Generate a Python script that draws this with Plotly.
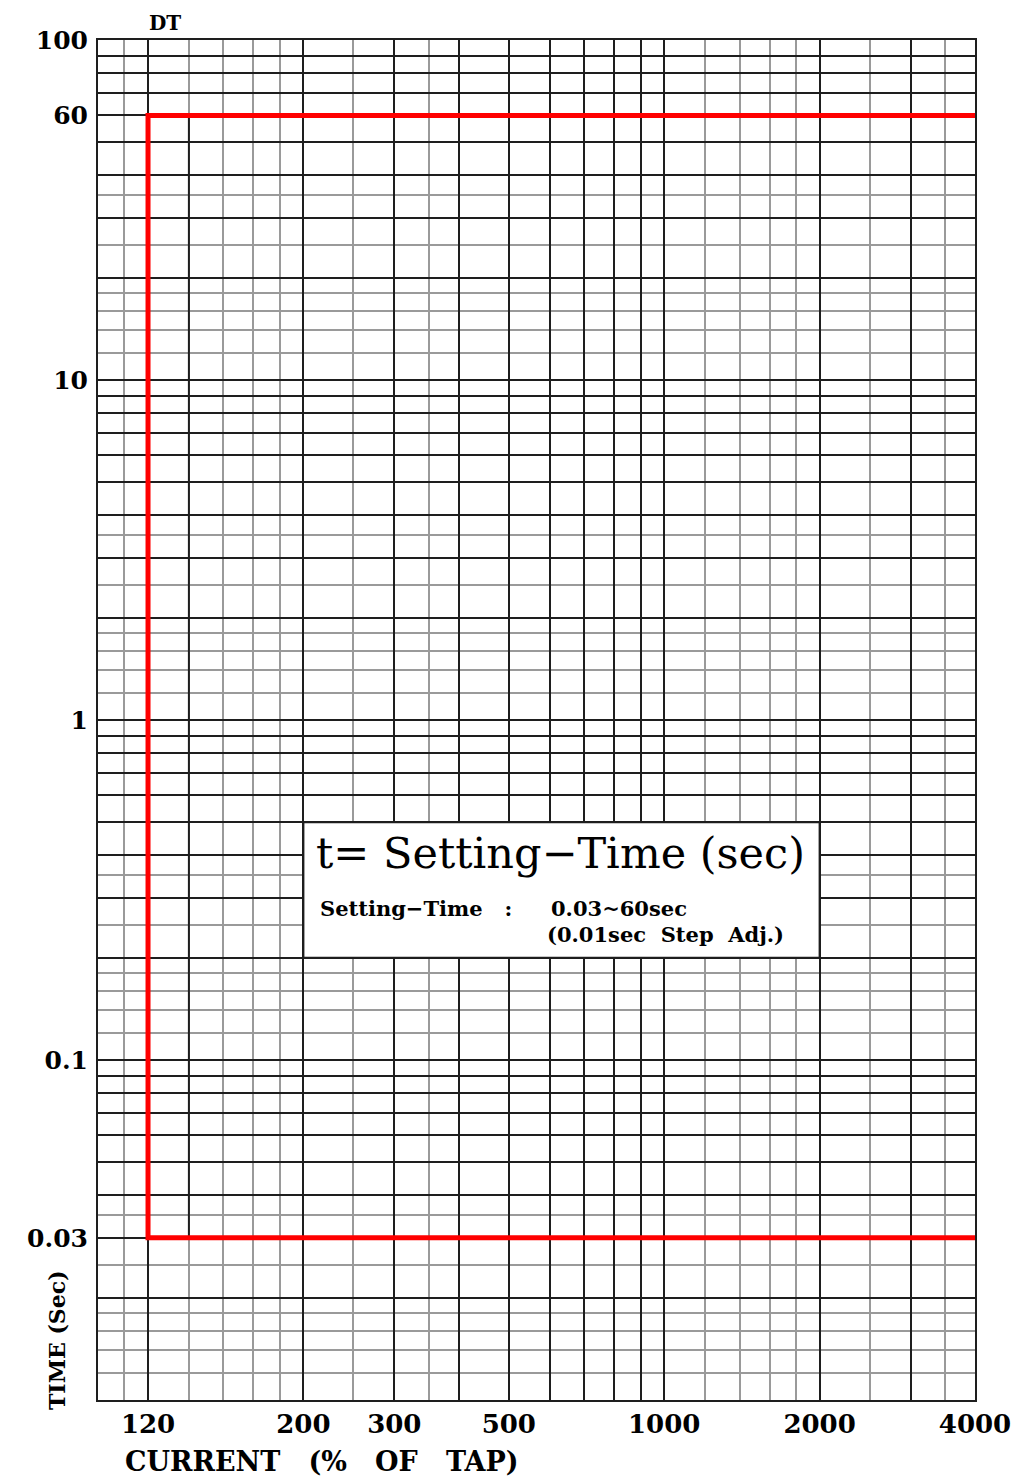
import numpy as np
import plotly.graph_objects as go

# --- data --------------------------------------------------------------
# definite-time (DT) characteristic: pickup and the two time limits
pickup = 100          # vertical red line sits on the first labelled gridline ("120")
x_end = 4000
t_max = 60
t_min = 0.03

# black segment of the 120 gridline between the time limits
seg_x = [120, 120]
seg_y = [t_min, t_max]

# x grid (CURRENT % of tap)
x_major = [100, 200, 300, 400, 500, 600, 700, 800, 900, 1000, 2000, 3000, 4000]
x_major_text = ["120", "200", "300", "", "500", "", "", "", "", "1000", "2000", "", "4000"]
x_minor = [90, 120, 140, 160, 180, 250, 350, 1200, 1400, 1600, 1800, 2500, 3500]

# y grid (TIME sec)
decades = [0.01, 0.1, 1, 10]
y_major_mult = [1, 2, 3, 4, 5, 6, 7, 8, 9]
y_minor_mult = [1.2, 1.4, 1.6, 1.8, 2.5, 3.5]
y_labels = {100: "100", 60: "60", 10: "10", 1: "1", 0.1: "0.1", 0.03: "0.03"}

y_major = [round(d * m, 6) for d in decades for m in y_major_mult] + [100]
y_major_text = [y_labels.get(v, "") for v in y_major]
y_minor = [round(d * m, 6) for d in decades for m in y_minor_mult]

FONT = "DejaVu Serif"
DARK = "#1e1e1e"
GRAY = "#9a9a9a"
NB = "\u00a0"

fig = go.Figure()

fig.add_trace(
    go.Scatter(
        x=seg_x, y=seg_y, mode="lines",
        line=dict(color=DARK, width=2), showlegend=False, hoverinfo="skip",
    )
)

# DT curve
fig.add_trace(
    go.Scatter(
        x=[x_end, pickup, pickup, x_end],
        y=[t_max, t_max, t_min, t_min],
        mode="lines",
        line=dict(color="#ff0000", width=5),
        showlegend=False,
    )
)

# white text box between 200..2000 and 0.2..0.5
fig.add_shape(
    type="rect", xref="x", yref="y",
    x0=200, x1=2000, y0=0.2, y1=0.5,
    fillcolor="white", line=dict(color=DARK, width=2), layer="above",
)


# plot area in the screenshot: x 98..975, y 40..1400
def px(xp):
    return (xp - 98) / 877


def py(yp):
    return (1400 - yp) / 1360


def label(text, x, y, size, xanchor="center", angle=0):
    fig.add_annotation(
        text=text, xref="paper", yref="paper", x=px(x), y=py(y),
        xanchor=xanchor, yanchor="middle", textangle=angle, showarrow=False,
        font=dict(family=FONT, size=size, color="black"),
    )


label(f"t={NB}Setting\u2212Time{NB}(sec)", 560, 853, 43)
label(f"<b>Setting\u2212Time{NB}{NB}{NB}:</b>", 318, 909, 21, xanchor="left")
label("<b>0.03~60sec</b>", 549, 909, 21, xanchor="left")
label(f"<b>(0.01sec{NB}{NB}Step{NB}{NB}Adj.)</b>", 545, 934, 21, xanchor="left")

# titles
label("<b>DT</b>", 165, 23, 20)
label(f"<b>CURRENT{NB*3}(%{NB*3}OF{NB*3}TAP)</b>", 123, 1461, 27, xanchor="left")
label(f"<b>TIME{NB}(Sec)</b>", 57, 1340, 22, angle=-90)

fig.update_layout(
    width=1014,
    height=1471,
    margin=dict(l=90, r=47, t=32, b=79),
    paper_bgcolor="white",
    plot_bgcolor="white",
    showlegend=False,
    xaxis=dict(
        type="log",
        range=[np.log10(80), np.log10(4000)],
        tickmode="array",
        tickvals=x_major,
        ticktext=x_major_text,
        ticks="",
        showgrid=True,
        gridcolor=DARK,
        gridwidth=2,
        minor=dict(tickmode="array", tickvals=x_minor, showgrid=True,
                   gridcolor=GRAY, gridwidth=2, ticks=""),
        showline=True,
        linecolor=DARK,
        linewidth=2,
        mirror=True,
        zeroline=False,
        ticklabelstandoff=0,
        tickfont=dict(family=FONT, size=26, color="black", weight="bold"),
    ),
    yaxis=dict(
        type="log",
        range=[-2, 2],
        tickmode="array",
        tickvals=y_major,
        ticktext=y_major_text,
        ticks="",
        showgrid=True,
        gridcolor=DARK,
        gridwidth=2,
        minor=dict(tickmode="array", tickvals=y_minor, showgrid=True,
                   gridcolor=GRAY, gridwidth=2, ticks=""),
        showline=True,
        linecolor=DARK,
        linewidth=2,
        mirror=True,
        zeroline=False,
        ticklabelstandoff=3,
        tickfont=dict(family=FONT, size=25, color="black", weight="bold"),
    ),
)

fig.write_html("out.html")
